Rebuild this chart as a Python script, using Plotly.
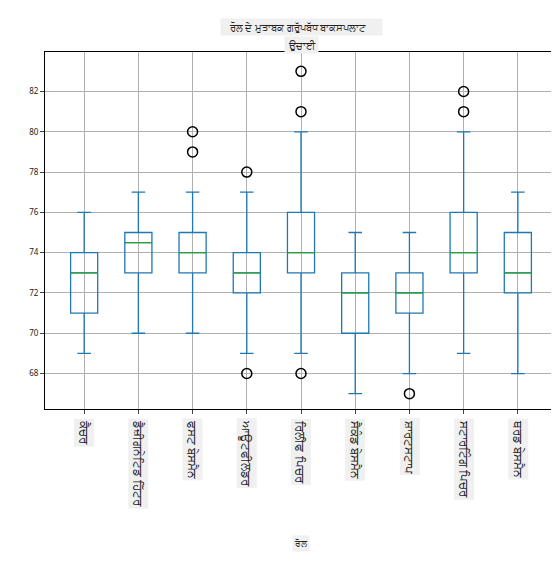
import plotly.graph_objects as go

roles = ["ਕੈਚਰ", "ਡੈਜ਼ੀਗਨੇਟਿਡ ਹਿੱਟਰ", "ਫਸਟ ਬੇਸਮੈਨ", "ਆਊਟਫੀਲਡਰ", "ਰਿਲੀਫ ਪਿਚਰ",
         "ਸੈਕੰਡ ਬੇਸਮੈਨ", "ਸ਼ਾਰਟਸਟਾਪ", "ਸਟਾਰਟਿੰਗ ਪਿਚਰ", "ਥਰਡ ਬੇਸਮੈਨ"]
lower = [69, 70, 70, 69, 69, 67, 68, 69, 68]
q1 = [71, 73, 73, 72, 73, 70, 71, 73, 72]
median = [73, 74.5, 74, 73, 74, 72, 72, 74, 73]
q3 = [74, 75, 75, 74, 76, 73, 73, 76, 75]
upper = [76, 77, 77, 77, 80, 75, 75, 80, 77]
out_role = ["ਫਸਟ ਬੇਸਮੈਨ", "ਫਸਟ ਬੇਸਮੈਨ", "ਆਊਟਫੀਲਡਰ", "ਆਊਟਫੀਲਡਰ", "ਰਿਲੀਫ ਪਿਚਰ",
            "ਰਿਲੀਫ ਪਿਚਰ", "ਰਿਲੀਫ ਪਿਚਰ", "ਸ਼ਾਰਟਸਟਾਪ", "ਸਟਾਰਟਿੰਗ ਪਿਚਰ", "ਸਟਾਰਟਿੰਗ ਪਿਚਰ"]
out_val = [80, 79, 78, 68, 83, 81, 68, 67, 81, 82]
yticks = [68, 70, 72, 74, 76, 78, 80, 82]

fig = go.Figure()
fig.add_trace(go.Box(x=roles, q1=q1, median=median, q3=q3, lowerfence=lower, upperfence=upper,
                     fillcolor="rgba(0,0,0,0)", line=dict(color="#1f77b4", width=1.3),
                     whiskerwidth=0.5, width=0.5, boxpoints=False, showlegend=False))
fig.add_trace(go.Box(x=roles, q1=median, median=median, q3=median, lowerfence=median, upperfence=median,
                     fillcolor="rgba(0,0,0,0)", line=dict(color="#2ca02c", width=1.3),
                     whiskerwidth=0, width=0.5, boxpoints=False, showlegend=False))
fig.add_trace(go.Scatter(x=out_role, y=out_val, mode="markers", showlegend=False,
                         marker=dict(symbol="circle-open", size=10, color="black", line=dict(width=1.5))))

fig.update_layout(
    width=559, height=573, margin=dict(l=37, r=10, t=44, b=172),
    plot_bgcolor="white", paper_bgcolor="white", boxmode="overlay",
    font=dict(family="Noto Sans, DejaVu Sans", size=9, color="#222"),
    xaxis=dict(categoryorder="array", categoryarray=roles, showticklabels=False, ticks="outside",
               ticklen=4, showgrid=True, gridcolor="#b0b0b0", showline=True, linecolor="black",
               mirror=True, zeroline=False),
    yaxis=dict(range=[66.24, 83.96], tickvals=yticks, ticks="outside", ticklen=4,
               showgrid=True, gridcolor="#b0b0b0", showline=True, linecolor="black", mirror=True,
               zeroline=False, tickfont=dict(size=8)),
)
for r in roles:
    fig.add_annotation(x=r, y=-0.025, xref="x", yref="paper", text=r, textangle=90,
                       showarrow=False, yanchor="top", bgcolor="#f0f0f0", font=dict(size=12))
fig.add_annotation(x=0.5, y=-0.40, xref="paper", yref="paper", text="ਰੋਲ", showarrow=False,
                   bgcolor="#f0f0f0", font=dict(size=9))
fig.add_annotation(x=0.5, y=1.095, xref="paper", yref="paper",
                   text="&nbsp;&nbsp;&nbsp;ਰੋਲ ਦੇ ਮੁਤਾਬਕ ਗਰੁੱਪਬੱਧ ਬਾਕਸਪਲਾਟ&nbsp;&nbsp;&nbsp;&nbsp;&nbsp;&nbsp;", showarrow=False,
                   bgcolor="#f0f0f0", font=dict(size=10))
fig.add_annotation(x=0.5, y=1.045, xref="paper", yref="paper", text="&nbsp;ਉਚਾਈ&nbsp;", showarrow=False,
                   bgcolor="#f0f0f0", font=dict(size=10))
fig.write_html("out.html")
